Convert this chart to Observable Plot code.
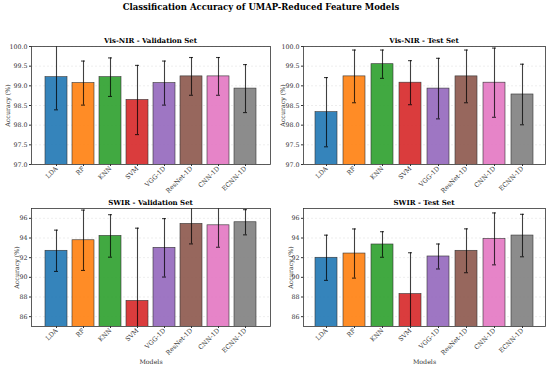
<!DOCTYPE html>
<html><head><meta charset="utf-8">
<script src="https://cdn.jsdelivr.net/npm/d3@7"></script>
<script src="https://cdn.jsdelivr.net/npm/@observablehq/plot@0.6"></script>
<style>
body{margin:0;background:#fff;}
#root{position:relative;width:550px;height:366px;font-family:"DejaVu Serif",serif;overflow:hidden;background:#fff;}
.t{position:absolute;font-weight:bold;white-space:nowrap;transform:translateX(-50%);color:#000;line-height:1;}
.p{position:absolute;}
</style></head><body><div id="root"></div>
<script>
const models = ["LDA","RF","KNN","SVM","VGG-1D","ResNet-1D","CNN-1D","ECNN-1D"];
const colors = ["#1f77b4","#ff7f0e","#2ca02c","#d62728","#9467bd","#8c564b","#e377c2","#7f7f7f"];

const visValMean  = [99.22, 99.07, 99.22, 98.64, 99.07, 99.24, 99.24, 98.93];
const visValStd   = [0.83, 0.56, 0.49, 0.88, 0.56, 0.48, 0.48, 0.61];
const visTestMean = [98.33, 99.24, 99.55, 99.08, 98.93, 99.24, 99.08, 98.78];
const visTestStd  = [0.88, 0.67, 0.36, 0.56, 0.77, 0.67, 0.88, 0.77];
const swirValMean  = [92.70, 93.77, 94.21, 87.60, 93.00, 95.43, 95.29, 95.60];
const swirValStd   = [2.10, 3.07, 2.16, 7.40, 2.97, 2.03, 2.23, 1.28];
const swirTestMean = [91.99, 92.42, 93.34, 88.30, 92.12, 92.70, 93.91, 94.25];
const swirTestStd  = [2.30, 2.50, 1.30, 4.20, 1.27, 2.23, 2.64, 2.16];

const visTicks = [97.0, 97.5, 98.0, 98.5, 99.0, 99.5, 100.0];
const swirTicks = [86, 88, 90, 92, 94, 96];

const mainTitle = "Classification Accuracy of UMAP-Reduced Feature Models";
const panelTitles = ["Vis-NIR - Validation Set","Vis-NIR - Test Set","SWIR - Validation Set","SWIR - Test Set"];
const yLabel = "Accuracy (%)";
const xLabel = "Models";

const root = document.getElementById("root");
function addText(txt, x, y, size) {
  const d = document.createElement("div");
  d.className = "t"; d.textContent = txt;
  d.style.left = x + "px"; d.style.top = y + "px"; d.style.fontSize = size + "px";
  root.appendChild(d);
}

function panel(means, stds, domain, ticks, fmt, o) {
  const data = models.map((m, i) => ({model: m, mean: means[i], lo: means[i] - stds[i], hi: means[i] + stds[i]}));
  const chart = Plot.plot({
    width: 275, height: o.h,
    marginLeft: o.ml, marginRight: 5, marginTop: o.mt, marginBottom: o.mb,
    style: {fontFamily: "DejaVu Serif", fontSize: "6px", color: "#333", background: "white", overflow: "visible"},
    x: {domain: models, paddingInner: 0.2, paddingOuter: 0.39},
    y: {domain: domain},
    color: {domain: models, range: colors},
    marks: [
      Plot.gridY(ticks, {stroke: "#000", strokeOpacity: 0.07, strokeDasharray: "2,2"}),
      Plot.barY(data, {x: "model", y1: domain[0] - 5, y2: "mean", fill: "model", fillOpacity: 0.9, stroke: "#333", strokeWidth: 0.6, clip: true}),
      Plot.ruleX(data, {x: "model", y1: "lo", y2: "hi", stroke: "#000", strokeOpacity: 0.75, strokeWidth: 1.1, clip: true}),
      Plot.tickY(data, {x: "model", y: "hi", insetLeft: 9, insetRight: 9, stroke: "#000", strokeOpacity: 0.75, strokeWidth: 1.1, clip: true}),
      Plot.tickY(data, {x: "model", y: "lo", insetLeft: 9, insetRight: 9, stroke: "#000", strokeOpacity: 0.75, strokeWidth: 1.1, clip: true}),
      Plot.axisY({ticks: ticks, tickFormat: fmt, tickSize: 2, tickPadding: 2, label: yLabel, labelAnchor: "center", labelOffset: o.lo, labelArrow: "none", fontSize: 6.3}),
      Plot.axisX({tickRotate: -45, tickSize: 2, tickPadding: 1, label: o.xl, labelAnchor: "center", labelOffset: 37, labelArrow: "none", fontSize: 6.3}),
      Plot.frame({stroke: "#333", strokeWidth: 0.8})
    ]
  });
  chart.classList.add("p");
  chart.style.left = o.left + "px"; chart.style.top = o.top + "px";
  root.appendChild(chart);
}

const f1 = d3.format(".1f"), f0 = d3.format("d");
panel(visValMean, visValStd, [97, 100], visTicks, f1, {left: 0, top: 30, h: 170, ml: 31, mt: 16, mb: 36, lo: 26, xl: null});
panel(visTestMean, visTestStd, [97, 100], visTicks, f1, {left: 275, top: 30, h: 170, ml: 28, mt: 16, mb: 36, lo: 23, xl: null});
panel(swirValMean, swirValStd, [85, 97], swirTicks, f0, {left: 0, top: 195, h: 171, ml: 31, mt: 13, mb: 40, lo: 17, xl: xLabel});
panel(swirTestMean, swirTestStd, [85, 97], swirTicks, f0, {left: 275, top: 195, h: 171, ml: 28, mt: 13, mb: 40, lo: 15, xl: xLabel});

addText(mainTitle, 261, 3, 8.5);
addText(panelTitles[0], 150.5, 37, 7);
addText(panelTitles[1], 424, 37, 7);
addText(panelTitles[2], 150.5, 199, 7);
addText(panelTitles[3], 424, 199, 7);
</script></body></html>
